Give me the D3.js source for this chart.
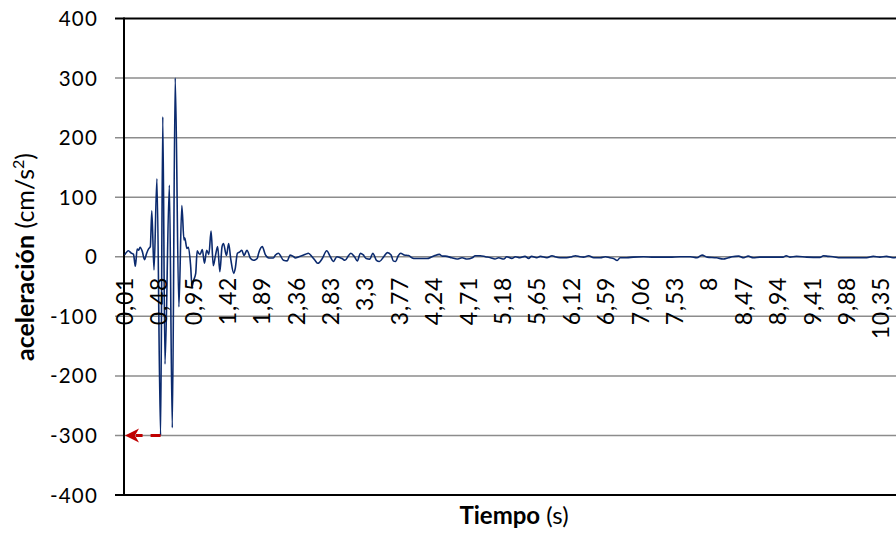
<!DOCTYPE html>
<html>
<head>
<meta charset="utf-8">
<script src="https://cdn.jsdelivr.net/npm/d3@7"></script>
<style>
  body { margin: 0; background: #fff; overflow: hidden; }
  svg { display: block; font-family: Lato, "Open Sans", sans-serif; }
</style>
</head>
<body>
<svg id="chart" width="896" height="534"></svg>
<script>
// Acelerograma: tiempo (s) y aceleración (cm/s²)
const time = [
  0.01, 0.06, 0.10, 0.13, 0.155, 0.18, 0.20, 0.22, 0.25, 0.28, 0.31, 0.34, 0.36, 0.38, 0.41,
  0.45, 0.50, 0.53, 0.56, 0.62, 0.66, 0.70, 0.75, 0.79, 0.82, 0.83, 0.86, 0.88, 0.91, 0.93,
  0.95, 0.98, 1.00, 1.02, 1.04, 1.07, 1.10, 1.13, 1.16, 1.19, 1.22, 1.25, 1.28, 1.31, 1.34,
  1.36, 1.40, 1.43, 1.46, 1.50, 1.52, 1.55, 1.58, 1.61, 1.64, 1.68, 1.73, 1.77, 1.82, 1.84,
  1.89, 1.93, 1.98, 2.04, 2.07, 2.11, 2.18, 2.23, 2.27, 2.32, 2.34, 2.39, 2.48, 2.52, 2.57,
  2.61, 2.65, 2.71, 2.77, 2.82, 2.86, 2.91, 2.98, 3.02, 3.07, 3.10, 3.15, 3.19, 3.23, 3.27,
  3.31, 3.36, 3.40, 3.45, 3.49, 3.55, 3.60, 3.65, 3.68, 3.71, 3.75, 3.78, 3.83, 3.89, 3.94,
  3.98, 4.05, 4.14, 4.21, 4.25, 4.31, 4.35, 4.39, 4.48, 4.55, 4.62, 4.69, 4.76, 4.80, 4.87,
  4.94, 5.01, 5.07, 5.12, 5.19, 5.23, 5.30, 5.35, 5.41, 5.48, 5.53, 5.57, 5.64, 5.69, 5.78,
  5.85, 5.89, 5.96, 6.05, 6.12, 6.17, 6.23, 6.28, 6.35, 6.42, 6.51, 6.58, 6.64, 6.69, 6.74,
  6.78, 6.87, 6.96, 7.10, 7.24, 7.46, 7.60, 7.74, 7.83, 7.90, 7.97, 8.10, 8.19, 8.26, 8.31,
  8.40, 8.47, 8.53, 8.60, 8.69, 8.88, 9.01, 9.05, 9.10, 9.19, 9.33, 9.51, 9.56, 9.63, 9.69,
  9.79, 9.97, 10.15, 10.24, 10.33, 10.42, 10.51, 10.61
];
const accel = [
  3, 10, 6, 4, -16, 13, 11, 16, 9, -5, 6, 14, 17, 77, -22,
  131, -300, 235, -180, 120, -287, 300, -84, 86, 28, 32, 14, 16, -14, -50,
  -40, -28, 10, 6, 4, 12, -11, 11, 4, 43, -15, 2, 17, -25, 17,
  22, 2, 22, -5, -28, -20, 6, 8, 11, 2, 11, -3, -6, -3, 6,
  17, 4, -2, -2, 3, 6, -6, -7, 3, 0, -2, 0, 4, 6, 0,
  -6, -11, -3, 10, 0, -8, 0, -3, -6, 2, 6, 0, -7, 6, 3,
  -3, -4, 6, -6, -8, 0, 7, 3, -7, -8, 2, 6, 3, 2, -2,
  -3, -3, -3, 0, 2, 4, 1, 1, -1.7, -3.9, -1.7, -3.9, -1.7, 1.7, 1.7,
  0, -1.7, -3.9, -1.7, -3.9, 0, -2.8, 0, -1.7, 0.6, -2.8, 0.6, -1.7, 0.6, -1.7,
  1.7, 0, -1.7, -1.7, 0, 1.7, 0, -0.6, 1.7, -1.7, -1.7, 0, -1.7, -2.8, -6.2,
  -1.7, -1.7, -0.6, 0, -0.6, -0.6, 0, 0, -1.7, 2.8, -0.6, -1.7, -3.9, -1.7, 0,
  1.1, -1.7, 1.1, -1.7, -0.6, -0.6, -0.6, 1.7, -0.6, 0.6, -0.6, -1.1, 1.7, 0.6, 0,
  -1.7, -1.7, -1.7, 0.6, -0.6, 0.6, -1.7, 0
];

// Etiquetas del eje de categorías (cada 0,47 s)
const xTicks = [0.01, 0.48, 0.95, 1.42, 1.89, 2.36, 2.83, 3.3, 3.77, 4.24, 4.71, 5.18,
                5.65, 6.12, 6.59, 7.06, 7.53, 8, 8.47, 8.94, 9.41, 9.88, 10.35];
const yTicks = [-400, -300, -200, -100, 0, 100, 200, 300, 400];

const svg = d3.select("#chart");
const plotLeft = 124, plotRight = 904, plotTop = 18.5, plotBottom = 495;

const x = d3.scaleLinear().domain([0, 10.66]).range([plotLeft, plotRight]);
const y = d3.scaleLinear().domain([-400, 400]).range([plotBottom, plotTop]);

// Líneas de división horizontales (con marca a la izquierda del eje)
svg.append("g")
  .selectAll("line")
  .data(yTicks)
  .join("line")
  .attr("x1", plotLeft - 9)
  .attr("x2", plotRight)
  .attr("y1", d => y(d))
  .attr("y2", d => y(d))
  .attr("stroke", d => (d === 400 || d === -400) ? "#000" : "#8c8c8c")
  .attr("stroke-width", d => (d === 400 || d === -400) ? 2 : 1.5);

// Eje vertical
svg.append("line")
  .attr("x1", plotLeft).attr("x2", plotLeft)
  .attr("y1", plotTop - 1).attr("y2", plotBottom + 1)
  .attr("stroke", "#000").attr("stroke-width", 2);

// Etiquetas del eje Y
svg.append("g")
  .selectAll("text")
  .data(yTicks)
  .join("text")
  .attr("x", 98)
  .attr("y", d => y(d) + 7.5)
  .attr("text-anchor", "end")
  .attr("font-size", 20.5)
  .attr("letter-spacing", 1.2)
  .attr("fill", "#000")
  .text(d => d);

// Serie de aceleración
const pts = time.map((t, i) => [t, accel[i]]);
const line = d3.line()
  .x(d => x(d[0]))
  .y(d => y(d[1]))
  .curve(d3.curveMonotoneX);

svg.append("path")
  .datum(pts)
  .attr("d", line)
  .attr("fill", "none")
  .attr("stroke", "#0b2a6e")
  .attr("stroke-width", 1.6)
  .attr("stroke-linejoin", "round");

// Etiquetas del eje X, giradas, bajo la línea de cero
svg.append("g")
  .selectAll("text")
  .data(xTicks)
  .join("text")
  .attr("transform", d => `translate(${x(d) + 8},${y(0) + 20}) rotate(-90)`)
  .attr("text-anchor", "end")
  .attr("font-size", 23)
  .attr("letter-spacing", 0.8)
  .attr("fill", "#000")
  .text(d => String(d).replace(".", ","));

// Flecha que señala el valor mínimo sobre el eje
const iMin = d3.minIndex(accel);
const yMin = y(accel[iMin]);
svg.append("line")
  .attr("x1", x(time[iMin]))
  .attr("x2", plotLeft + 12)
  .attr("y1", yMin).attr("y2", yMin)
  .attr("stroke", "#c00000")
  .attr("stroke-width", 3)
  .attr("stroke-dasharray", "10,8");
svg.append("path")
  .attr("d", `M${plotLeft + 1},${yMin} L${plotLeft + 15},${yMin - 7} L${plotLeft + 11},${yMin} L${plotLeft + 15},${yMin + 7} Z`)
  .attr("fill", "#c00000");

// Títulos de los ejes
const yt = svg.append("text")
  .attr("transform", `translate(34,257) rotate(-90)`)
  .attr("text-anchor", "middle")
  .attr("font-size", 25)
  .attr("fill", "#000");
yt.append("tspan").attr("font-weight", "bold").text("aceleración");
yt.append("tspan").text(" (cm/s");
yt.append("tspan").attr("font-size", 16).attr("dy", -10).text("2");
yt.append("tspan").attr("dy", 10).text(")");

const xt = svg.append("text")
  .attr("x", 514)
  .attr("y", 524)
  .attr("text-anchor", "middle")
  .attr("font-size", 24)
  .attr("fill", "#000");
xt.append("tspan").attr("font-weight", "bold").text("Tiempo");
xt.append("tspan").text(" (s)");
</script>
</body>
</html>
